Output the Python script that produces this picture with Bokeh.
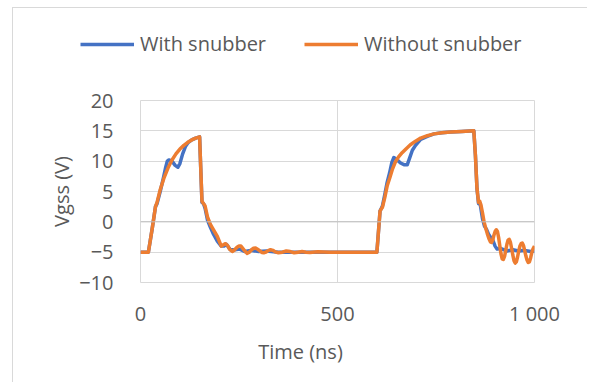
from bokeh.plotting import figure
from bokeh.layouts import column
from bokeh.models import FixedTicker, Legend, LegendItem, Span, Range1d, Label
from bokeh.embed import file_html
from bokeh.resources import INLINE

# ---- data ----
t_with = [0, 20, 30, 38, 42, 50, 58, 64, 68, 72, 80, 88, 95, 100, 107, 114, 120, 130, 140, 150,
          156, 160, 164, 170, 178, 185, 195, 205, 212, 218, 228, 240, 252, 265, 280, 300, 320, 350, 600,
          608, 614, 620, 626, 632, 638, 643, 650, 660, 670, 677, 683, 690, 698, 711, 728, 745, 765, 787,
          815, 846, 850, 854, 858, 862, 868, 873, 878, 883, 888, 893, 900, 905, 915, 930, 945, 960, 975, 990, 1000]
v_with = [-5, -5, -1, 2.5, 3.0, 5.0, 7.2, 9.0, 10.0, 10.2, 10.0, 9.3, 9.0, 9.6, 11.2, 12.4, 13.0, 13.5, 13.8, 14.0,
          3.2, 3.0, 2.2, 0.3, -1.0, -2.0, -3.2, -4.0, -4.0, -3.7, -4.6, -4.6, -4.5, -4.9, -4.7, -4.9, -4.8, -5.0, -5.0,
          1.8, 2.6, 4.5, 6.5, 8.0, 9.8, 10.6, 10.3, 9.7, 9.4, 9.4, 10.5, 11.8, 12.6, 13.6, 14.1, 14.5, 14.7, 14.8,
          14.9, 15.0, 11.0, 5.5, 3.0, 3.0, 0.5, -0.7, -1.2, -2.0, -2.5, -2.8, -4.0, -4.5, -4.4, -4.8, -4.6, -4.8, -4.7, -4.9, -4.8]

t_without = [0, 20, 30, 38, 42, 50, 60, 70, 80, 90, 100, 110, 120, 130, 140, 150,
             156, 160, 164, 170, 178, 185, 195, 205, 210, 216, 221, 226, 233, 239, 245, 250, 255, 260, 266, 271,
             276, 282, 287, 292, 297, 303, 308, 313, 318, 324, 330, 336, 342, 350, 360, 370, 380, 390, 400, 410,
             420, 430, 450, 480, 600,
             608, 614, 620, 626, 633, 639, 647, 655, 664, 675, 685, 698, 711, 728, 745, 765, 787, 815, 846,
             850, 854, 858, 861, 864, 868, 872, 876, 880, 884, 888, 891, 894, 897, 900, 903, 906, 909, 912, 915,
             918, 921, 924, 927, 930, 933, 936, 939, 942, 945, 948, 951, 954, 957, 960, 963, 966, 969, 972, 975,
             978, 981, 984, 987, 990, 993, 996, 1000]
v_without = [-5, -5, -1, 2.5, 3.2, 5.3, 7.3, 8.9, 10.2, 11.2, 12.0, 12.6, 13.1, 13.5, 13.8, 14.0,
             3.4, 3.0, 2.6, 0.8, -0.5, -1.3, -2.4, -4.0, -3.8, -3.6, -3.9, -4.5, -4.9, -4.6, -4.2, -4.0, -4.0, -4.4, -4.9, -5.2,
             -5.0, -4.6, -4.35, -4.3, -4.5, -4.8, -5.05, -5.1, -5.0, -4.75, -4.6, -4.7, -4.95, -5.1, -5.0, -4.8, -4.9, -5.1, -5.0, -4.9,
             -5.0, -5.05, -4.95, -5.0, -5.0,
             1.8, 2.4, 4.0, 5.9, 7.3, 8.6, 9.9, 10.7, 11.4, 12.1, 12.7, 13.3, 13.8, 14.2, 14.5, 14.7, 14.8, 14.9, 15.0,
             11.0, 5.5, 3.2, 3.4, 2.8, 1.5, 0.0, -1.0, -1.9, -2.7, -3.3, -3.4, -3.0, -2.2, -1.6, -1.3, -1.6, -2.6, -4.0, -5.3,
             -6.1, -6.2, -5.7, -4.7, -3.7, -3.0, -2.9, -3.4, -4.4, -5.5, -6.4, -6.8, -6.6, -5.8, -4.8, -4.0, -3.6, -3.5, -3.9, -4.7,
             -5.6, -6.3, -6.7, -6.6, -6.0, -5.1, -4.5, -4.0]

x_ticks = [0, 500, 1000]
x_tick_labels = ["0", "500", "1 000"]
y_ticks = [-10, -5, 0, 5, 10, 15, 20]
series_names = ["With snubber", "Without snubber"]
series_colors = ["#4472C4", "#ED7D31"]
x_title = "Time (ns)"
y_title = "Vgss (V)"

FONT = "Open Sans"
FS = "20px"
TXT = "#595959"
GRID = "#D9D9D9"
BORDER = "1px solid #D9D9D9"
LW = 3.5


def strip_fig(h, styles, y_rng):
    f = figure(width=575, height=h, output_backend="svg", toolbar_location=None,
               x_axis_location=None, y_axis_location=None,
               x_range=Range1d(0, 1000), y_range=y_rng,
               min_border=0, margin=(0, 0, 0, 12))
    f.frame_align = False
    f.grid.visible = False
    f.outline_line_color = None
    f.border_fill_color = "white"
    f.background_fill_color = "white"
    f.styles = styles
    return f


# ---- top strip holding the legend (series drawn far outside its visible range) ----
top = strip_fig(60, {"border-left": BORDER, "border-top": BORDER}, Range1d(1000, 1001))
top.margin = (7, 0, 0, 12)
lw = top.line(t_with, v_with, line_color=series_colors[0], line_width=LW)
lwo = top.line(t_without, v_without, line_color=series_colors[1], line_width=LW)
legend = Legend(items=[LegendItem(label=series_names[0], renderers=[lw]),
                       LegendItem(label=series_names[1], renderers=[lwo])],
                orientation="horizontal", location=(67, 11),
                label_text_font=FONT, label_text_font_size=FS, label_text_color=TXT,
                glyph_width=54, glyph_height=20, label_height=20, label_standoff=6, spacing=38,
                padding=0, margin=0, border_line_color=None, background_fill_alpha=0)
top.add_layout(legend, "center")

# ---- main chart ----
p = figure(width=575, height=267, output_backend="svg", toolbar_location=None,
           x_range=Range1d(0, 1000), y_range=Range1d(-10, 20),
           min_border_left=127, min_border_right=54, min_border_top=33, min_border_bottom=52,
           margin=(0, 0, 0, 12))
p.frame_align = False
p.styles = {"border-left": BORDER}
p.outline_line_color = GRID
p.background_fill_color = "white"
p.border_fill_color = "white"

p.xgrid.ticker = FixedTicker(ticks=x_ticks)
p.ygrid.ticker = FixedTicker(ticks=y_ticks)
p.xgrid.grid_line_color = GRID
p.ygrid.grid_line_color = GRID
p.add_layout(Span(location=0, dimension="width", line_color="#BFBFBF", line_width=1))

p.xaxis.ticker = FixedTicker(ticks=x_ticks)
p.xaxis.major_label_overrides = {t: l for t, l in zip(x_ticks, x_tick_labels)}
p.yaxis.ticker = FixedTicker(ticks=y_ticks)
for ax in (p.xaxis[0], p.yaxis[0]):
    ax.axis_line_color = None
    ax.major_tick_line_color = None
    ax.minor_tick_line_color = None
    ax.major_label_text_font = FONT
    ax.major_label_text_font_size = FS
    ax.major_label_text_color = TXT
    ax.axis_label_text_font = FONT
    ax.axis_label_text_font_size = FS
    ax.axis_label_text_color = TXT
    ax.axis_label_text_font_style = "normal"
p.yaxis.axis_label = y_title
p.xaxis.major_label_standoff = 11
p.yaxis.major_label_standoff = 21
p.yaxis.axis_label_standoff = 1

p.line(t_with, v_with, line_color=series_colors[0], line_width=LW, line_join="round")
p.line(t_without, v_without, line_color=series_colors[1], line_width=LW, line_join="round")

# ---- bottom strip holding the x-axis title ----
bot = strip_fig(48, {"border-left": BORDER}, Range1d(0, 1))
bot.add_layout(Label(x=287, y=31, x_units="screen", y_units="screen", text=x_title,
                     text_align="center", text_baseline="middle",
                     text_font=FONT, text_font_size=FS, text_color=TXT))

layout = column(top, p, bot, spacing=0)
open("out.html", "w").write(file_html(layout, INLINE))
